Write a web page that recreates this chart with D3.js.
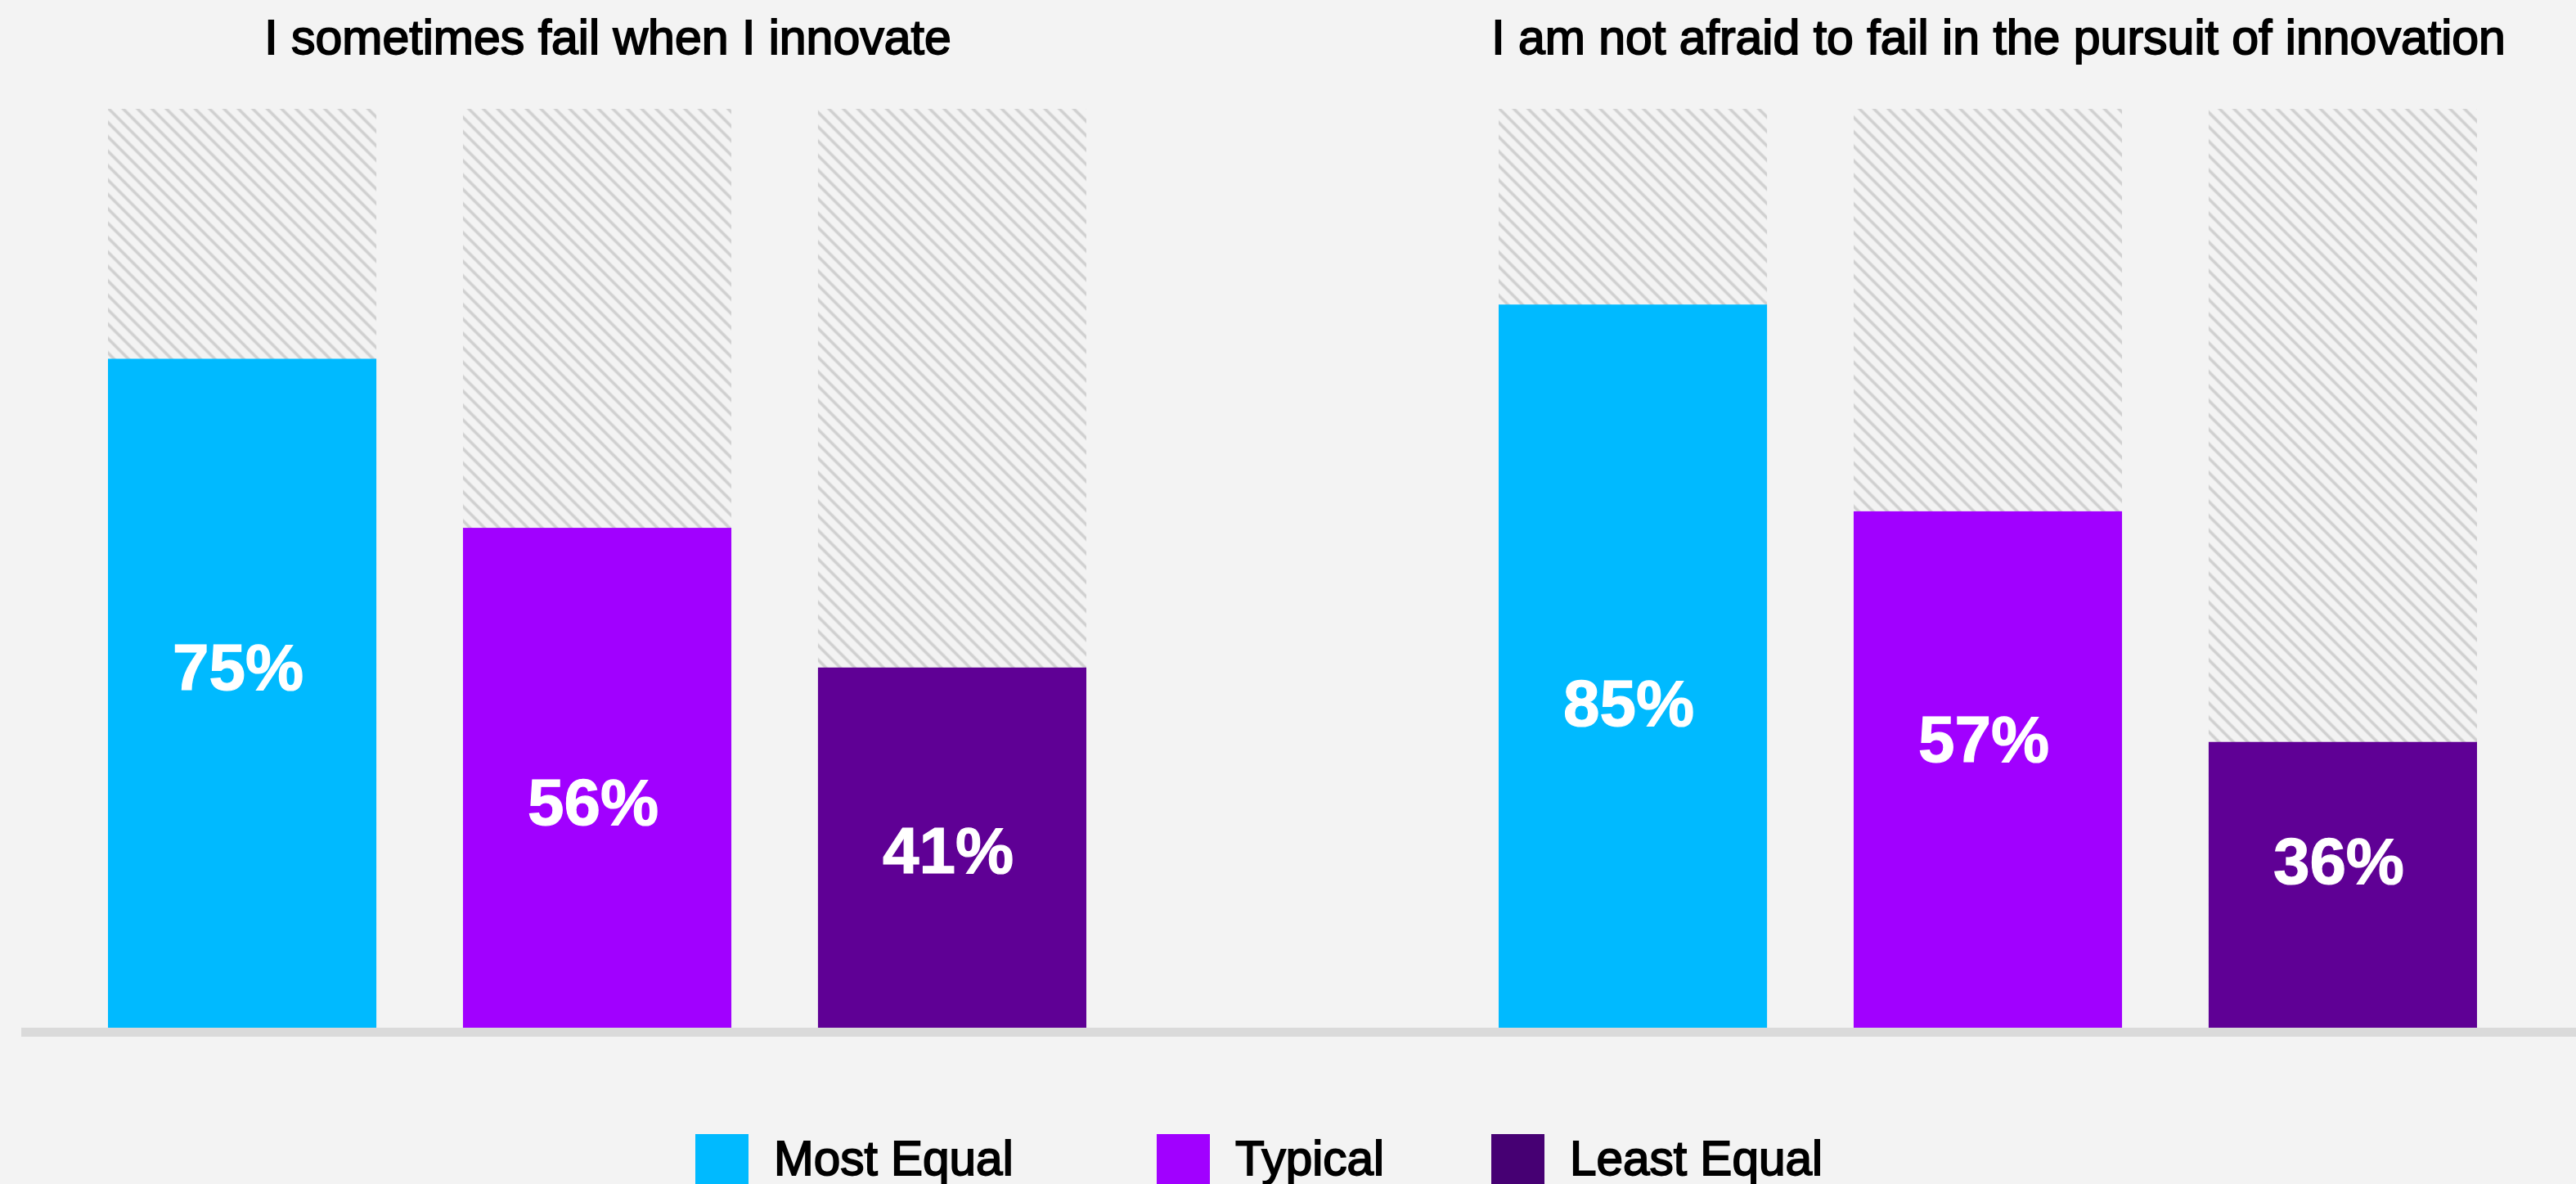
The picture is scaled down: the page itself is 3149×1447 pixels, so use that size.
<!DOCTYPE html>
<html>
<head>
<meta charset="utf-8">
<script src="https://cdn.jsdelivr.net/npm/d3@7"></script>
<style>
  html, body { margin: 0; padding: 0; background: #f3f3f3; }
  svg { display: block; }
</style>
</head>
<body>
<svg id="chart" width="3149" height="1447"></svg>
<script>
// ---- data ----
const panels = ["I sometimes fail when I innovate", "I am not afraid to fail in the pursuit of innovation"];
const groups = ["Most Equal", "Typical", "Least Equal"];
const labelValues = [[75, 56, 41], [85, 57, 36]];          // printed percentages
const barHeights = [[72.8, 54.4, 39.2], [78.7, 56.2, 31.1]]; // drawn bar height, % of the hatched track
const labelLevels = [[36.8, 22.1, 16.8], [32.9, 28.9, 15.7]]; // label baseline level, % of the track
const barColors = ["#00baff", "#a100ff", "#5f0095"];
const legendColors = ["#00baff", "#a100ff", "#460073"];

// ---- layout ----
const W = 3149, H = 1447;
const svg = d3.select("#chart");
svg.append("rect").attr("width", W).attr("height", H).attr("fill", "#f3f3f3");

const defs = svg.append("defs");
const pat = defs.append("pattern")
  .attr("id", "hatch").attr("patternUnits", "userSpaceOnUse")
  .attr("width", 12.45).attr("height", 12.45)
  .attr("patternTransform", "rotate(45)");
pat.append("rect").attr("width", 12.45).attr("height", 12.45).attr("fill", "#f3f3f3");
pat.append("line").attr("x1", 0).attr("x2", 12.45).attr("y1", 6.2).attr("y2", 6.2)
  .attr("stroke", "#d0d0d0").attr("stroke-width", 3.6);

const x0 = d3.scaleBand().domain(panels).range([132, 3028]).paddingInner(0.29647).paddingOuter(0);
const x1 = d3.scaleBand().domain(groups).range([0, x0.bandwidth()]).paddingInner(0.244).paddingOuter(0);
const y = d3.scaleLinear().domain([0, 100]).range([1256, 133]);

const font = "'Liberation Sans', Arial, sans-serif";

panels.forEach((p, pi) => {
  const g = svg.append("g").attr("transform", `translate(${x0(p)},0)`);
  // title
  g.append("text")
    .attr("x", x0.bandwidth() / 2 + 13).attr("y", 66)
    .attr("text-anchor", "middle")
    .attr("font-family", font).attr("font-size", 59)
    .attr("fill", "#000").attr("stroke", "#000").attr("stroke-width", 1.8)
    .text(p);

  const rows = groups.map((gr, i) => ({ gr, i, h: barHeights[pi][i], v: labelValues[pi][i], l: labelLevels[pi][i] }));
  // hatched track
  g.selectAll("rect.track").data(rows).enter().append("rect")
    .attr("class", "track")
    .attr("x", d => x1(d.gr)).attr("width", x1.bandwidth())
    .attr("y", y(100)).attr("height", y(0) - y(100))
    .attr("fill", "url(#hatch)");
  // bars
  g.selectAll("rect.bar").data(rows).enter().append("rect")
    .attr("class", "bar")
    .attr("x", d => x1(d.gr)).attr("width", x1.bandwidth())
    .attr("y", d => y(d.h)).attr("height", d => y(0) - y(d.h))
    .attr("fill", d => barColors[d.i]);
  // labels
  g.selectAll("text.lbl").data(rows).enter().append("text")
    .attr("class", "lbl")
    .attr("x", d => x1(d.gr) + x1.bandwidth() / 2 - 5)
    .attr("y", d => y(d.l))
    .attr("text-anchor", "middle")
    .attr("font-family", font).attr("font-weight", "bold").attr("font-size", 80)
    .attr("fill", "#fff").attr("stroke", "#fff").attr("stroke-width", 1.2)
    .text(d => d.v + "%");
});

// baseline
svg.append("rect").attr("x", 26).attr("y", y(0)).attr("width", W - 26).attr("height", 11).attr("fill", "#dadada");

// legend
const legendX = [850, 1414, 1823];
const lg = svg.append("g");
groups.forEach((gr, i) => {
  lg.append("rect").attr("x", legendX[i]).attr("y", 1386).attr("width", 65).attr("height", 65)
    .attr("fill", legendColors[i]);
  lg.append("text").attr("x", legendX[i] + 96).attr("y", 1436)
    .attr("font-family", font).attr("font-size", 58.5)
    .attr("fill", "#000").attr("stroke", "#000").attr("stroke-width", 1.8)
    .text(gr);
});
</script>
</body>
</html>
